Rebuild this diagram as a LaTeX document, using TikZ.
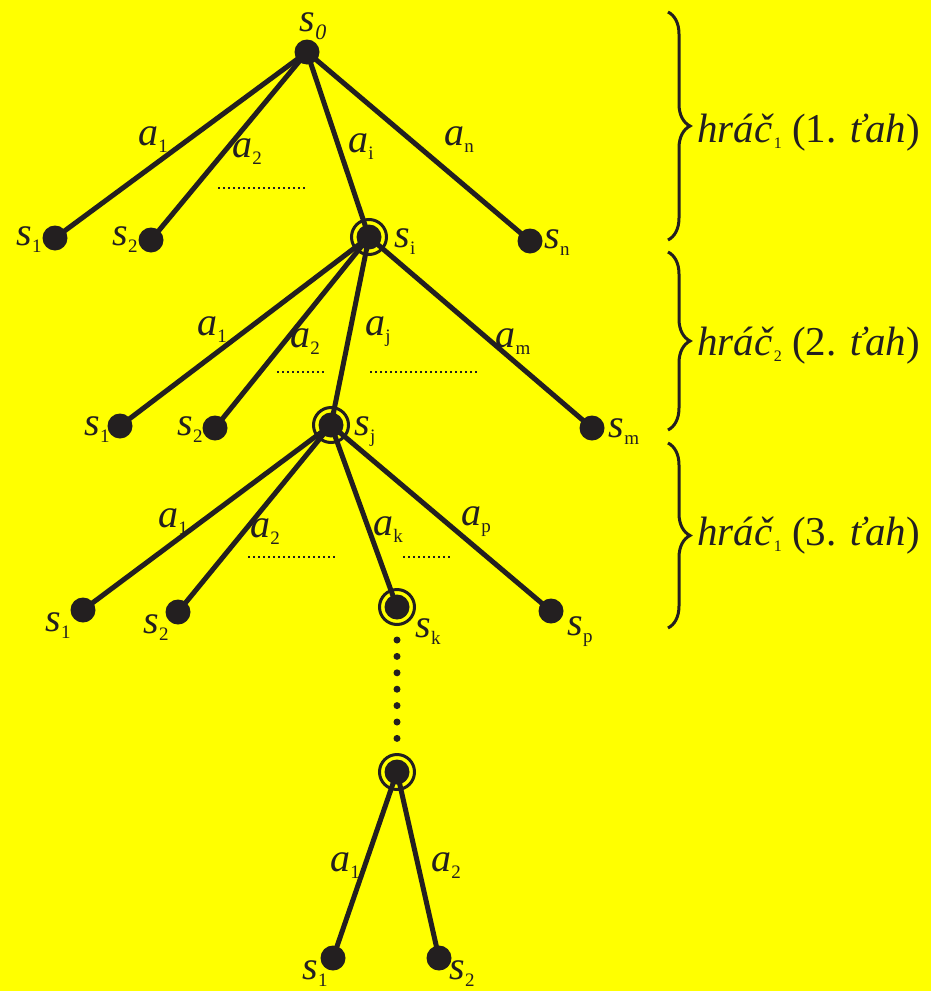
\documentclass[tikz,border=0pt]{standalone}
\usepackage{fontspec}
\setmainfont{Liberation Serif}
\usepackage{tikz}
\usetikzlibrary{positioning,backgrounds,decorations.pathreplacing}
\definecolor{paper}{HTML}{FFFF00}
\definecolor{ink}{HTML}{231F20}
\newcommand{\st}[2]{\textit{#1}\raisebox{-7pt}{\fontsize{19}{19}\selectfont #2}}
\newcommand{\tah}[2]{\textit{hráč}\raisebox{-6pt}{\fontsize{16}{16}\selectfont #1} (#2. \textit{ťah})}

\begin{document}
\begin{tikzpicture}[x=1pt,y=-1pt,
  leaf/.style={circle,fill=ink,inner sep=0pt,minimum size=25pt},
  pick/.style={circle,draw=ink,line width=3pt,inner sep=0pt,minimum size=35pt,
               path picture={\fill[ink] (path picture bounding box.center) circle[radius=12.5pt];}},
  edge/.style={draw=ink,line width=5pt},
  lab/.style={inner sep=0pt,text=ink,font=\fontsize{40}{44}\selectfont},
  gap/.style={draw=ink,line width=1.6pt,dash pattern=on 1.6pt off 3.4pt},
  vdots/.style={draw=ink,line width=7pt,line cap=round,dash pattern=on 0pt off 16.4pt,dash phase=2.4pt},
  hold/.style={draw=ink,line width=3pt,decorate,decoration={brace,amplitude=22pt}},
  who/.style={anchor=west,inner sep=0pt,text=ink,font=\fontsize{41}{45}\selectfont}
]
\useasboundingbox (0,0) rectangle (931,991);

% tree nodes
\node[leaf] (r) at (307,52) {};
\node[leaf] (u1) at (55,238) {};
\node[leaf] (u2) at (151,240) {};
\node[pick] (ui) at (369,237) {};
\node[leaf] (un) at (530,241) {};
\node[leaf] (v1) at (120,426) {};
\node[leaf] (v2) at (215,428) {};
\node[pick] (vj) at (331,425) {};
\node[leaf] (vm) at (592,428) {};
\node[leaf] (w1) at (83,610) {};
\node[leaf] (w2) at (178,612) {};
\node[pick] (wk) at (397,607) {};
\node[leaf] (wp) at (551,611) {};
\node[pick] (z) at (397,772) {};
\node[leaf] (z1) at (333,958) {};
\node[leaf] (z2) at (439,958) {};

% state labels
\node[lab] (rl) at (313,26) {\textit{s}\raisebox{-8pt}{\fontsize{22}{22}\selectfont\textit{0}}};
\node[lab] (u1l) at (29,240) {\st{s}{1}};
\node[lab] (u2l) at (125,240) {\st{s}{2}};
\node[lab] (uil) at (405,242) {\st{s}{i}};
\node[lab] (unl) at (557,243) {\st{s}{n}};
\node[lab] (v1l) at (97,430) {\st{s}{1}};
\node[lab] (v2l) at (190,430) {\st{s}{2}};
\node[lab] (vjl) at (365,432) {\st{s}{j}};
\node[lab] (vml) at (624,432) {\st{s}{m}};
\node[lab] (w1l) at (58,626) {\st{s}{1}};
\node[lab] (w2l) at (156,628) {\st{s}{2}};
\node[lab] (wkl) at (428,632) {\st{s}{k}};
\node[lab] (wpl) at (580,632) {\st{s}{p}};
\node[lab] (z1l) at (315,974) {\st{s}{1}};
\node[lab] (z2l) at (462,974) {\st{s}{2}};

% action labels
\node[lab] (ea1) at (153,140) {\st{a}{1}};
\node[lab] (ea2) at (247,152) {\st{a}{2}};
\node[lab] (eai) at (361,147) {\st{a}{i}};
\node[lab] (ean) at (459,140) {\st{a}{n}};
\node[lab] (fa1) at (212,330) {\st{a}{1}};
\node[lab] (fa2) at (305,342) {\st{a}{2}};
\node[lab] (faj) at (378,332) {\st{a}{j}};
\node[lab] (fam) at (513,342) {\st{a}{m}};
\node[lab] (ga1) at (173,522) {\st{a}{1}};
\node[lab] (ga2) at (265,532) {\st{a}{2}};
\node[lab] (gak) at (388,530) {\st{a}{k}};
\node[lab] (gap) at (476,522) {\st{a}{p}};
\node[lab] (ha1) at (345,866) {\st{a}{1}};
\node[lab] (ha2) at (446,866) {\st{a}{2}};

% edges under the nodes
\begin{scope}[on background layer]
\fill[paper] (0,0) rectangle (931,991);
\foreach \c in {u1,u2,ui,un} \draw[edge] (r.center) -- (\c.center);
\foreach \c in {v1,v2,vj,vm} \draw[edge] (ui.center) -- (\c.center);
\foreach \c in {w1,w2,wk,wp} \draw[edge] (vj.center) -- (\c.center);
\foreach \c in {z1,z2} \draw[edge] (z.center) -- (\c.center);
\end{scope}
\draw[vdots] (wk) -- (z);

% omitted branches
\draw[gap] (218,188) -- (305,188);
\draw[gap] (277,372) -- (326,372);
\draw[gap] (370,372) -- (478,372);
\draw[gap] (248,557) -- (335,557);
\draw[gap] (403,557) -- (450,557);

% players
\draw[hold] (668,12) -- (668,240);
\draw[hold] (668,252) -- (668,430);
\draw[hold] (668,443) -- (668,628);
\node[who] (t1) at (697,133) {\tah{1}{1}};
\node[who] (t2) at (697,346) {\tah{2}{2}};
\node[who] (t3) at (697,536) {\tah{1}{3}};
\end{tikzpicture}
\end{document}
